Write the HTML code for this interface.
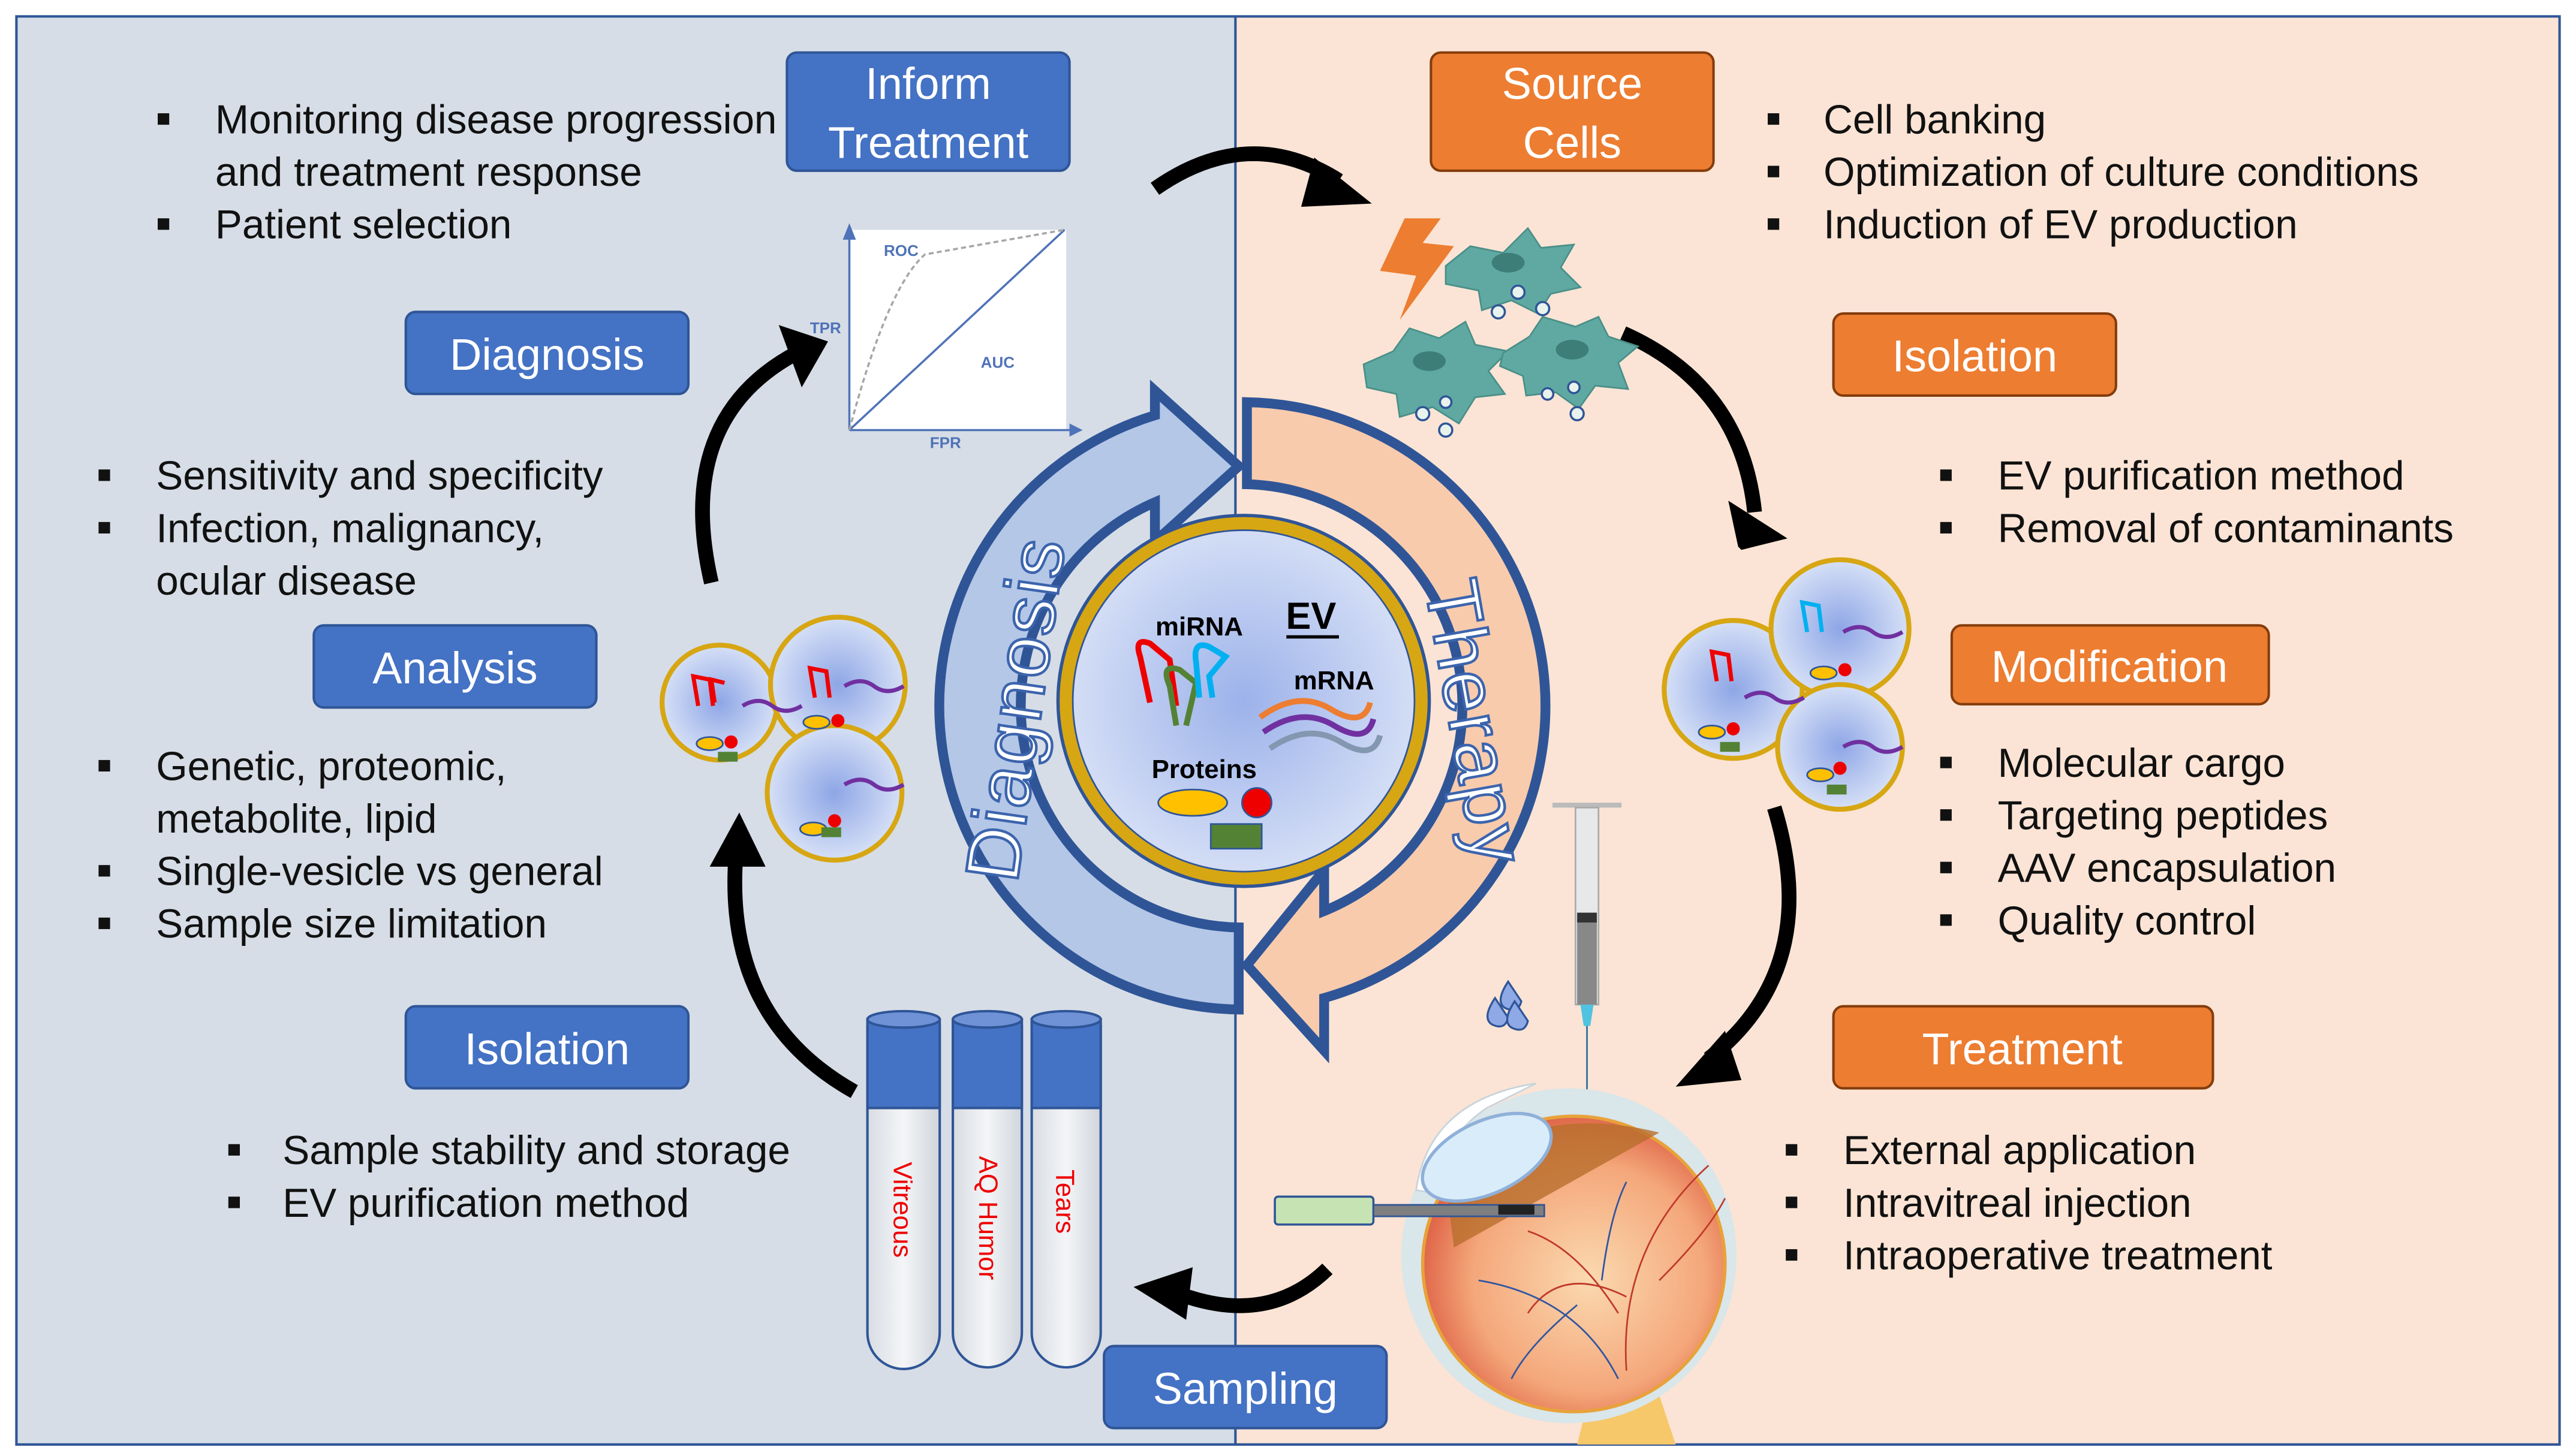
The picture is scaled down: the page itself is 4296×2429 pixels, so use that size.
<!DOCTYPE html>
<html><head><meta charset="utf-8"><style>
html,body{margin:0;padding:0;background:#fff;}
svg{display:block;}
text{font-family:"Liberation Sans",sans-serif;}
</style></head><body>
<svg width="4296" height="2429" viewBox="0 0 1568 887" preserveAspectRatio="none" xmlns="http://www.w3.org/2000/svg">
<defs>
<radialGradient id="evg" cx="0.5" cy="0.5" r="0.5"><stop offset="0" stop-color="#9cb2ea"/><stop offset="1" stop-color="#d3ddf5"/></radialGradient>
<radialGradient id="ves" cx="0.5" cy="0.5" r="0.5"><stop offset="0" stop-color="#8ea6e6"/><stop offset="1" stop-color="#d6e0f6"/></radialGradient>
<radialGradient id="eye" cx="0.55" cy="0.55" r="0.55"><stop offset="0" stop-color="#fbd9b0"/><stop offset="0.7" stop-color="#f4a77a"/><stop offset="1" stop-color="#e0684a"/></radialGradient>
<linearGradient id="tube" x1="0" x2="1"><stop offset="0" stop-color="#d8dde3"/><stop offset="0.5" stop-color="#f4f5f7"/><stop offset="1" stop-color="#d0d5dc"/></linearGradient>
</defs>
<rect x="0" y="0" width="1568" height="887" fill="#fff"/>
<rect x="10" y="10" width="742" height="870" fill="#d6dde6"/>
<rect x="752" y="10" width="806" height="870" fill="#fbe4d5"/>
<rect x="10" y="10" width="1548" height="870" fill="none" stroke="#2f5597" stroke-width="1.5"/>
<line x1="752" y1="10" x2="752" y2="880" stroke="#2f5597" stroke-width="1.5"/>

<!-- big arrows -->
<path d="M754,615 A185,185 0 0 1 703,253 L703,238 L754,284 L703,330 L703,306 A135,135 0 0 0 754,565 Z" fill="#b4c7e7" stroke="#2f5597" stroke-width="6" stroke-linejoin="miter"/>
<path d="M759,245 A185,185 0 0 1 806,608 L806,640 L759,588 L806,530 L806,555 A135,135 0 0 0 759,295 Z" fill="#f8cbad" stroke="#2f5597" stroke-width="6" stroke-linejoin="miter"/>
<text transform="translate(618,432) rotate(-82)" font-size="46" fill="#fff" stroke="#3c64ad" stroke-width="1.6" text-anchor="middle" dominant-baseline="central" letter-spacing="1">Diagnosis</text>
<text transform="translate(898,440) rotate(80)" font-size="46" fill="#fff" stroke="#3c64ad" stroke-width="1.6" text-anchor="middle" dominant-baseline="central" letter-spacing="1">Therapy</text>

<!-- EV circle -->
<circle cx="757" cy="427" r="114" fill="#2f5597"/>
<circle cx="757" cy="427" r="112" fill="#d7a613"/>
<circle cx="757" cy="427" r="104" fill="url(#evg)" stroke="#2f5597" stroke-width="1"/>
<text x="730" y="387" font-size="16" font-weight="bold" text-anchor="middle">miRNA</text>
<text x="798" y="383" font-size="23" font-weight="bold" text-anchor="middle">EV</text>
<line x1="783" y1="388" x2="815" y2="388" stroke="#000" stroke-width="2"/>
<text x="812" y="420" font-size="16" font-weight="bold" text-anchor="middle">mRNA</text>
<text x="733" y="474" font-size="16" font-weight="bold" text-anchor="middle">Proteins</text>
<g fill="none" stroke-width="3.5">
<path d="M700,428 L694,400 Q690,388 700,392 L712,402 L716,430" stroke="#e00"/>
<path d="M716,442 L712,418 Q706,404 718,408 L728,416 L722,442" stroke="#548235"/>
<path d="M730,425 L728,403 Q726,390 736,394 L746,400 L736,412 L738,425" stroke="#00b0f0"/>
<path d="M767,437 Q790,420 810,432 T834,428" stroke="#ed7d31"/>
<path d="M769,446 Q792,430 812,442 T836,438" stroke="#7030a0"/>
<path d="M773,456 Q796,440 816,452 T840,448" stroke="#8497b0"/>
</g>
<ellipse cx="726" cy="489" rx="21" ry="8" fill="#ffc000" stroke="#2f5597"/>
<circle cx="765" cy="489" r="9" fill="#e00" stroke="#2f5597"/>
<rect x="737" y="502" width="31" height="15" fill="#548235" stroke="#2f5597"/>

<!-- boxes -->
<g stroke="#2f5597" stroke-width="1.5">
<rect x="479" y="32" width="172" height="72" rx="6" fill="#4472c4"/>
<rect x="247" y="190" width="172" height="50" rx="6" fill="#4472c4"/>
<rect x="191" y="381" width="172" height="50" rx="6" fill="#4472c4"/>
<rect x="247" y="613" width="172" height="50" rx="6" fill="#4472c4"/>
<rect x="672" y="820" width="172" height="50" rx="6" fill="#4472c4"/>
</g>
<g stroke="#843c0c" stroke-width="1.5" fill="#ed7d31">
<rect x="871" y="32" width="172" height="72" rx="6"/>
<rect x="1116" y="191" width="172" height="50" rx="6"/>
<rect x="1188" y="381" width="193" height="48" rx="6"/>
<rect x="1116" y="613" width="231" height="50" rx="6"/>
</g>
<g font-size="27" fill="#fff" text-anchor="middle" dominant-baseline="central">
<text x="565" y="51">Inform</text><text x="565" y="87">Treatment</text>
<text x="333" y="216">Diagnosis</text>
<text x="277" y="407">Analysis</text>
<text x="333" y="639">Isolation</text>
<text x="758" y="846">Sampling</text>
<text x="957" y="51">Source</text><text x="957" y="87">Cells</text>
<text x="1202" y="217">Isolation</text>
<text x="1284" y="406">Modification</text>
<text x="1231" y="639">Treatment</text>
</g>

<!-- bullets -->
<g font-size="24.6" fill="#111" dominant-baseline="central">
<text x="131" y="73">Monitoring disease progression</text>
<text x="131" y="105">and treatment response</text>
<text x="131" y="137">Patient selection</text>
<text x="95" y="290">Sensitivity and specificity</text>
<text x="95" y="322">Infection, malignancy,</text>
<text x="95" y="354">ocular disease</text>
<text x="95" y="467">Genetic, proteomic,</text>
<text x="95" y="499">metabolite, lipid</text>
<text x="95" y="531">Single-vesicle vs general</text>
<text x="95" y="563">Sample size limitation</text>
<text x="172" y="701">Sample stability and storage</text>
<text x="172" y="733">EV purification method</text>
<text x="1110" y="73">Cell banking</text>
<text x="1110" y="105">Optimization of culture conditions</text>
<text x="1110" y="137">Induction of EV production</text>
<text x="1216" y="290">EV purification method</text>
<text x="1216" y="322">Removal of contaminants</text>
<text x="1216" y="465">Molecular cargo</text>
<text x="1216" y="497">Targeting peptides</text>
<text x="1216" y="529">AAV encapsulation</text>
<text x="1216" y="561">Quality control</text>
<text x="1122" y="701">External application</text>
<text x="1122" y="733">Intravitreal injection</text>
<text x="1122" y="765">Intraoperative treatment</text>
</g>
<g fill="#111">
<rect x="96" y="69" width="7" height="7"/><rect x="96" y="133" width="7" height="7"/>
<rect x="60" y="286" width="7" height="7"/><rect x="60" y="318" width="7" height="7"/>
<rect x="60" y="463" width="7" height="7"/><rect x="60" y="527" width="7" height="7"/><rect x="60" y="559" width="7" height="7"/>
<rect x="139" y="697" width="7" height="7"/><rect x="139" y="729" width="7" height="7"/>
<rect x="1076" y="69" width="7" height="7"/><rect x="1076" y="101" width="7" height="7"/><rect x="1076" y="133" width="7" height="7"/>
<rect x="1181" y="286" width="7" height="7"/><rect x="1181" y="318" width="7" height="7"/>
<rect x="1181" y="461" width="7" height="7"/><rect x="1181" y="493" width="7" height="7"/><rect x="1181" y="525" width="7" height="7"/><rect x="1181" y="557" width="7" height="7"/>
<rect x="1087" y="697" width="7" height="7"/><rect x="1087" y="729" width="7" height="7"/><rect x="1087" y="761" width="7" height="7"/>
</g>

<!-- curved black arrows -->
<g fill="none" stroke="#000" stroke-width="9">
<path d="M703,115 Q760,75 815,110"/>
<path d="M988,203 Q1060,235 1068,312"/>
<path d="M1080,492 Q1110,590 1040,645"/>
<path d="M808,773 Q770,810 712,786"/>
<path d="M520,665 Q440,620 448,520"/>
<path d="M433,355 Q410,255 485,215"/>
</g>
<g fill="#000">
<polygon points="800,96 835,124 792,126"/>
<polygon points="1052,305 1088,328 1060,335 1058,333"/>
<polygon points="1050,628 1020,662 1060,658"/>
<polygon points="726,772 690,784 722,804"/>
<polygon points="432,528 450,495 466,528"/>
<polygon points="474,198 504,208 488,236"/>
</g>

<!-- ROC -->
<rect x="517" y="140" width="132" height="122" fill="#fff"/>
<g stroke="#4f73b8" stroke-width="1.3" fill="none">
<line x1="517" y1="140" x2="517" y2="262"/>
<line x1="517" y1="262" x2="655" y2="262"/>
<line x1="517" y1="262" x2="648" y2="140"/>
<path d="M517,262 Q540,175 563,155 L648,140" stroke="#a6a6a6" stroke-dasharray="3,2"/>
</g>
<polygon points="513,146 517,136 521,146" fill="#4f73b8"/><polygon points="651,258 659,262 651,266" fill="#4f73b8"/>
<g font-size="9.5" fill="#4f73b8" font-weight="bold">
<text x="538" y="156">ROC</text><text x="493" y="203">TPR</text><text x="597" y="224">AUC</text><text x="566" y="273">FPR</text>
</g>

<!-- vesicles -->
<g stroke="#d7a613" stroke-width="3" fill="url(#ves)">
<circle cx="438" cy="428" r="35"/><circle cx="510" cy="417" r="41"/><circle cx="508" cy="483" r="41"/>
<circle cx="1055" cy="420" r="42"/><circle cx="1120" cy="383" r="42"/><circle cx="1120" cy="455" r="38"/>
</g>
<g stroke-width="2.5" fill="none">
<path d="M425,430 l-3,-18 l10,2 l2,16 M435,428 l-2,-14 l8,2" stroke="#e00"/><path d="M496,425 l-3,-18 l10,2 l2,16" stroke="#e00"/>
<path d="M452,430 q10,-6 18,0 t18,0" stroke="#7030a0"/><path d="M514,418 q10,-6 18,0 t18,0" stroke="#7030a0"/><path d="M514,478 q10,-6 18,0 t18,0" stroke="#7030a0"/>
<path d="M1045,415 l-3,-18 l10,2 l2,16" stroke="#e00"/><path d="M1100,385 l-3,-18 l10,2 l2,16" stroke="#00b0f0"/>
<path d="M1062,425 q10,-6 18,0 t18,0" stroke="#7030a0"/><path d="M1122,385 q10,-6 18,0 t18,0" stroke="#7030a0"/><path d="M1122,455 q10,-6 18,0 t18,0" stroke="#7030a0"/>
</g>
<g fill="#ffc000" stroke="#2f5597"><ellipse cx="432" cy="453" rx="8" ry="4"/><ellipse cx="497" cy="440" rx="8" ry="4"/><ellipse cx="495" cy="505" rx="8" ry="4"/><ellipse cx="1042" cy="446" rx="8" ry="4"/><ellipse cx="1110" cy="410" rx="8" ry="4"/><ellipse cx="1108" cy="472" rx="8" ry="4"/></g>
<g fill="#e00"><circle cx="445" cy="452" r="4"/><circle cx="510" cy="439" r="4"/><circle cx="508" cy="500" r="4"/><circle cx="1055" cy="444" r="4"/><circle cx="1123" cy="408" r="4"/><circle cx="1120" cy="468" r="4"/></g>
<g fill="#548235"><rect x="437" y="458" width="12" height="6"/><rect x="500" y="504" width="12" height="6"/><rect x="1047" y="452" width="12" height="6"/><rect x="1112" y="478" width="12" height="6"/></g>

<!-- cells -->
<polygon points="855,133 840,165 862,168 852,195 885,150 866,148 877,133" fill="#ed7d31"/>
<g fill="#5fa9a2" stroke="#4a8f88">
<path d="M880,162 l15,-12 l20,4 l15,-15 l8,12 l20,-2 l-8,14 l12,12 l-18,4 l-8,12 l-16,-8 l-18,6 l-2,-12 l-20,-4 Z"/>
<path d="M830,222 l18,-8 l10,-14 l18,6 l16,-10 l6,14 l20,4 l-12,12 l10,14 l-18,2 l-10,16 l-16,-10 l-20,6 l-2,-14 l-18,-4 Z"/>
<path d="M915,215 l16,-10 l8,-12 l20,6 l14,-6 l6,12 l18,6 l-12,10 l6,16 l-20,-2 l-10,14 l-14,-10 l-18,2 l-2,-12 l-14,-6 Z"/>
</g>
<g fill="#3d7f78"><ellipse cx="918" cy="160" rx="10" ry="6"/><ellipse cx="870" cy="220" rx="10" ry="6"/><ellipse cx="957" cy="213" rx="10" ry="6"/></g>
<g fill="#e8f3ee" stroke="#2f5597" stroke-width="1.3">
<circle cx="924" cy="178" r="4"/><circle cx="939" cy="188" r="4"/><circle cx="912" cy="190" r="4"/>
<circle cx="866" cy="252" r="4"/><circle cx="880" cy="262" r="4"/><circle cx="880" cy="245" r="3.5"/>
<circle cx="960" cy="252" r="4"/><circle cx="942" cy="240" r="3.5"/><circle cx="958" cy="236" r="3.5"/>
</g>

<!-- tubes -->
<g stroke="#2f5597" stroke-width="1.5">
<path d="M528,625 L528,812 A22,22 0 0 0 572,812 L572,625 Z" fill="url(#tube)"/>
<path d="M580,625 L580,812 A21,21 0 0 0 622,812 L622,625 Z" fill="url(#tube)"/>
<path d="M628,625 L628,812 A21,21 0 0 0 670,812 L670,625 Z" fill="url(#tube)"/>
<rect x="528" y="621" width="44" height="54" fill="#4472c4"/>
<rect x="580" y="621" width="42" height="54" fill="#4472c4"/>
<rect x="628" y="621" width="42" height="54" fill="#4472c4"/>
<ellipse cx="550" cy="621" rx="22" ry="5" fill="#6f92d6"/><ellipse cx="601" cy="621" rx="21" ry="5" fill="#6f92d6"/><ellipse cx="649" cy="621" rx="21" ry="5" fill="#6f92d6"/>
</g>
<g font-size="16" fill="#e00" text-anchor="middle">
<text transform="translate(544,737) rotate(90)">Vitreous</text>
<text transform="translate(596,742) rotate(90)">AQ Humor</text>
<text transform="translate(643,732) rotate(90)">Tears</text>
</g>

<!-- syringe -->
<rect x="945" y="489" width="42" height="3" fill="#bbb"/>
<rect x="959" y="492" width="14" height="120" fill="#e6e8ea" stroke="#aaa"/>
<rect x="960" y="560" width="12" height="52" fill="#888"/>
<rect x="960" y="556" width="12" height="6" fill="#333"/>
<polygon points="962,612 970,612 968,625 964,625" fill="#4fc3e0"/>
<line x1="966" y1="625" x2="966" y2="668" stroke="#2f6fa0" stroke-width="1"/>
<!-- drops -->
<g fill="#8fa9e6" stroke="#2f5597" stroke-width="1.2"><path d="M910,608 q-8,12 -2,16 q8,4 10,-4 z"/><path d="M918,598 q-8,12 -2,16 q8,4 10,-4 z"/><path d="M922,610 q-8,12 -2,16 q8,4 10,-4 z"/></g>
<!-- eye -->
<path d="M960,880 L975,820 L1000,820 L1020,880 Z" fill="#f6c86a"/>
<ellipse cx="955" cy="765" rx="102" ry="102" fill="#d9e6ea"/>
<ellipse cx="958" cy="770" rx="92" ry="90" fill="url(#eye)" stroke="#e8a23a" stroke-width="2"/>
<path d="M880,720 Q930,670 1010,690 L885,760 Z" fill="#b86e2c" opacity="0.8"/>
<path d="M862,725 Q870,670 935,660 L905,675 Q875,695 878,728 Z" fill="#fff" stroke="#c8d4dc"/>
<ellipse cx="905" cy="705" rx="42" ry="22" transform="rotate(-25 905 705)" fill="#d9ecfa" stroke="#8fb0d8" stroke-width="2"/>
<g stroke="#c0392b" stroke-width="1" fill="none"><path d="M990,835 Q985,760 1040,710 M1010,780 Q1040,750 1050,730 M990,790 Q950,770 930,800 M985,800 Q960,760 930,750"/></g>
<g stroke="#3055a0" stroke-width="1" fill="none"><path d="M985,840 Q960,790 900,780 M960,795 Q930,820 920,840 M975,780 Q980,740 990,720"/></g>
<rect x="776" y="729" width="60" height="17" rx="2" fill="#c6e3b3" stroke="#2f5597" stroke-width="1.3"/>
<rect x="836" y="734" width="104" height="7" fill="#7f7f7f" stroke="#2f5597" stroke-width="1"/>
<rect x="912" y="734" width="22" height="6" fill="#222"/>
</svg>
</body></html>
